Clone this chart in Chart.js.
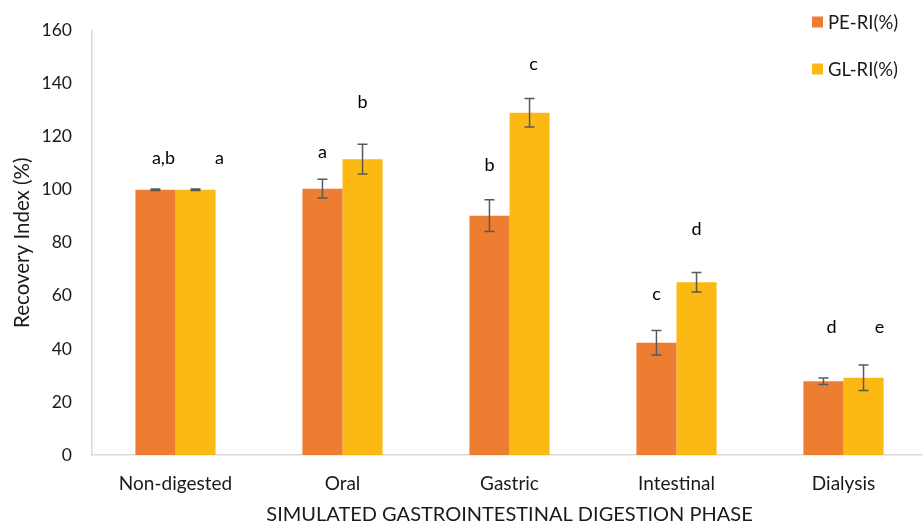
<!DOCTYPE html>
<html>
<head>
<meta charset="utf-8">
<script src="https://cdn.jsdelivr.net/npm/chart.js@4.4.1/dist/chart.umd.min.js"></script>
<style>
  html, body { margin: 0; padding: 0; background: #fff; overflow: hidden; }
  #wrap { position: relative; width: 927px; height: 527px; }
</style>
</head>
<body>
<div id="wrap"><canvas id="chart"></canvas></div>
<script>
// Digestion phases
const phases = ['Non-digested', 'Oral', 'Gastric', 'Intestinal', 'Dialysis'];

// Recovery index (%) per phase
const peRI = [100.0, 100.4, 90.2, 42.3, 27.8];
const glRI = [100.0, 111.5, 129.0, 65.1, 29.1];

// Standard deviations
const peSD = [0.3, 3.5, 6.0, 4.6, 1.2];
const glSD = [0.3, 5.6, 5.4, 3.7, 4.8];

// Significance letters and the axis value they sit at
const peLetters = ['a,b', 'a', 'b', 'c', 'd'];
const glLetters = ['a', 'b', 'c', 'd', 'e'];
const peLetterAt = [111.7, 114.3, 109.4, 60.7, 48.0];
const glLetterAt = [111.7, 133.0, 147.2, 85.0, 48.0];

// Y axis ticks
const yTicks = [0, 20, 40, 60, 80, 100, 120, 140, 160];

const FONT = 'Lato, "Open Sans", sans-serif';
const TEXT = '#1a1a1a';

const sdSets = [peSD, glSD];
const letterSets = [peLetters, glLetters];
const letterAtSets = [peLetterAt, glLetterAt];
// small horizontal nudges for letters (px)
const letterNudge = [[8, 0, 0, 0, 8], [24, 0, 4, 0, 16]];

const errorBars = {
  id: 'errorBars',
  afterDatasetsDraw(chart) {
    const ctx = chart.ctx;
    const y = chart.scales.y;
    ctx.save();
    chart.data.datasets.forEach((ds, di) => {
      const meta = chart.getDatasetMeta(di);
      meta.data.forEach((bar, i) => {
        const v = ds.data[i], sd = sdSets[di][i];
        const yT = y.getPixelForValue(v + sd);
        const yB = y.getPixelForValue(v - sd);
        ctx.strokeStyle = '#595959';
        ctx.lineWidth = 1.5;
        ctx.beginPath();
        ctx.moveTo(bar.x, yT); ctx.lineTo(bar.x, yB);
        ctx.moveTo(bar.x - 5, yT); ctx.lineTo(bar.x + 5, yT);
        ctx.moveTo(bar.x - 5, yB); ctx.lineTo(bar.x + 5, yB);
        ctx.stroke();

        ctx.fillStyle = '#000';
        ctx.font = '18px ' + FONT;
        ctx.textAlign = 'center';
        ctx.textBaseline = 'middle';
        ctx.fillText(letterSets[di][i], bar.x + letterNudge[di][i],
                     y.getPixelForValue(letterAtSets[di][i]));
      });
    });
    ctx.restore();
  }
};

const sideLegend = {
  id: 'sideLegend',
  afterDraw(chart) {
    const ctx = chart.ctx;
    ctx.save();
    ctx.font = '18.5px ' + FONT;
    ctx.textBaseline = 'middle';
    ctx.textAlign = 'left';
    chart.data.datasets.forEach((ds, i) => {
      const cy = 22 + i * 47;
      ctx.fillStyle = ds.backgroundColor;
      ctx.fillRect(812, cy - 5.5, 11, 11);
      ctx.fillStyle = TEXT;
      ctx.fillText(ds.label, 828, cy + 1);
    });
    ctx.restore();
  }
};

new Chart(document.getElementById('chart'), {
  type: 'bar',
  data: {
    labels: phases,
    datasets: [
      { label: 'PE-RI(%)', data: peRI, backgroundColor: '#ED7D31' },
      { label: 'GL-RI(%)', data: glRI, backgroundColor: '#FDB913' }
    ]
  },
  options: {
    responsive: true,
    maintainAspectRatio: false,
    animation: false,
    layout: { padding: { top: 18, right: 0, left: 0, bottom: 0 } },
    datasets: { bar: { categoryPercentage: 0.48, barPercentage: 1.0 } },
    plugins: { legend: { display: false }, tooltip: { enabled: false } },
    scales: {
      x: {
        grid: { display: false, drawTicks: false },
        border: { display: true, color: '#D9D9D9', width: 1.5 },
        ticks: { color: TEXT, font: { family: FONT, size: 19 }, padding: 17 },
        title: { display: true, text: 'SIMULATED GASTROINTESTINAL DIGESTION PHASE',
                 color: TEXT, font: { family: FONT, size: 20 }, padding: { top: 3, bottom: 0 } },
        afterFit(s) { s.height = 72; }
      },
      y: {
        min: 0, max: 160,
        afterBuildTicks(s) { s.ticks = yTicks.map(v => ({ value: v })); },
        grid: { display: false, drawTicks: false },
        border: { display: true, color: '#D9D9D9', width: 1.5 },
        ticks: { color: TEXT, font: { family: FONT, size: 17.5 }, padding: 20 },
        title: { display: true, text: 'Recovery Index (%)', color: TEXT,
                 font: { family: FONT, size: 20.5 }, padding: { top: 10, bottom: 6 } },
        afterFit(s) { s.width = 92; }
      }
    }
  },
  plugins: [errorBars, sideLegend]
});
</script>
</body>
</html>
